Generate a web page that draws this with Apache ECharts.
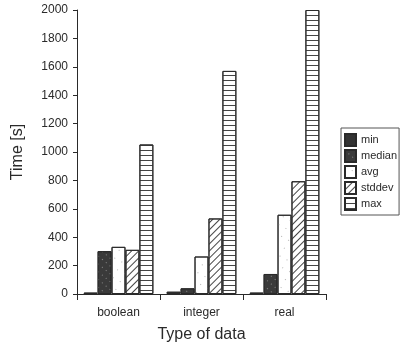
<!DOCTYPE html>
<html>
<head>
<meta charset="utf-8">
<script src="https://cdn.jsdelivr.net/npm/echarts@6/dist/echarts.min.js"></script>
<style>
  html, body { margin: 0; padding: 0; background: #fff; }
  #chart { width: 400px; height: 350px; }
</style>
</head>
<body>
<div id="chart"></div>
<script>
// data
const categories = ['boolean', 'integer', 'real'];
const seriesNames = ['min', 'median', 'avg', 'stddev', 'max'];
const minVals = [10, 16, 10];
const medianVals = [302, 40, 141];
const avgVals = [332, 264, 558];
const stddevVals = [311, 532, 794];
const maxVals = [1053, 1571, 2000];
const yTicks = { min: 0, max: 2000, interval: 200 };

const ink = '#2a2a2a';
const font = 'Liberation Sans';

// fill patterns for each series
const styles = {
    min: { color: '#333', decal: { symbol: 'none' } },
    median: {
        color: '#3a3a3a',
        decal: { symbol: 'rect', symbolSize: 1, color: '#8a8a8a', dashArrayX: [1, 4], dashArrayY: [1, 5], rotation: 0.7 }
    },
    avg: {
        color: '#fff',
        decal: { symbol: 'rect', symbolSize: 1, color: '#b5b5b5', dashArrayX: [1, 7], dashArrayY: [1, 8], rotation: 0.5 }
    },
    stddev: {
        color: '#fff',
        decal: { symbol: 'rect', color: '#444', dashArrayX: [1, 0], dashArrayY: [1, 4], rotation: -Math.PI / 4 }
    },
    max: {
        color: '#fff',
        decal: { symbol: 'rect', color: '#444', dashArrayX: [1, 0], dashArrayY: [1, 4], rotation: 0 }
    }
};

const values = [minVals, medianVals, avgVals, stddevVals, maxVals];

let myChart = echarts.init(document.getElementById('chart'));

const series = seriesNames.map((name, i) => {
    return {
        name: name,
        type: 'bar',
        data: values[i],
        barGap: '0%',
        barCategoryGap: '16%',
        itemStyle: {
            color: styles[name].color,
            borderColor: ink,
            borderWidth: 1,
            decal: styles[name].decal
        }
    };
});

const option = {
    backgroundColor: '#fff',
    animation: false,
    aria: { enabled: true, decal: { show: true } },
    grid: { left: 77, right: 74, top: 10, bottom: 56 },
    legend: {
        data: seriesNames,
        icon: 'rect',
        orient: 'vertical',
        left: 341,
        top: 128,
        itemWidth: 11,
        itemHeight: 12,
        itemGap: 2,
        padding: [5, 2, 4, 3],
        borderColor: '#555',
        borderWidth: 1,
        textStyle: { color: ink, fontFamily: font, fontSize: 11, lineHeight: 12 }
    },
    xAxis: {
        type: 'category',
        data: categories,
        name: 'Type of data',
        nameLocation: 'middle',
        nameGap: 33,
        nameTextStyle: { color: ink, fontFamily: font, fontSize: 16 },
        axisLine: { lineStyle: { color: ink, width: 1 } },
        axisTick: { show: true, length: 6, lineStyle: { color: ink } },
        axisLabel: { color: ink, fontFamily: font, fontSize: 12, margin: 13 }
    },
    yAxis: {
        type: 'value',
        min: yTicks.min,
        max: yTicks.max,
        interval: yTicks.interval,
        name: 'Time [s]',
        nameLocation: 'middle',
        nameGap: 51,
        nameTextStyle: { color: ink, fontFamily: font, fontSize: 16 },
        axisLine: { show: true, lineStyle: { color: ink, width: 1 } },
        axisTick: { show: true, length: 4, lineStyle: { color: ink } },
        axisLabel: { color: ink, fontFamily: font, fontSize: 12, margin: 9, formatter: v => String(v) },
        splitLine: { show: false }
    },
    series: series
};

myChart.setOption(option, true);
</script>
</body>
</html>
